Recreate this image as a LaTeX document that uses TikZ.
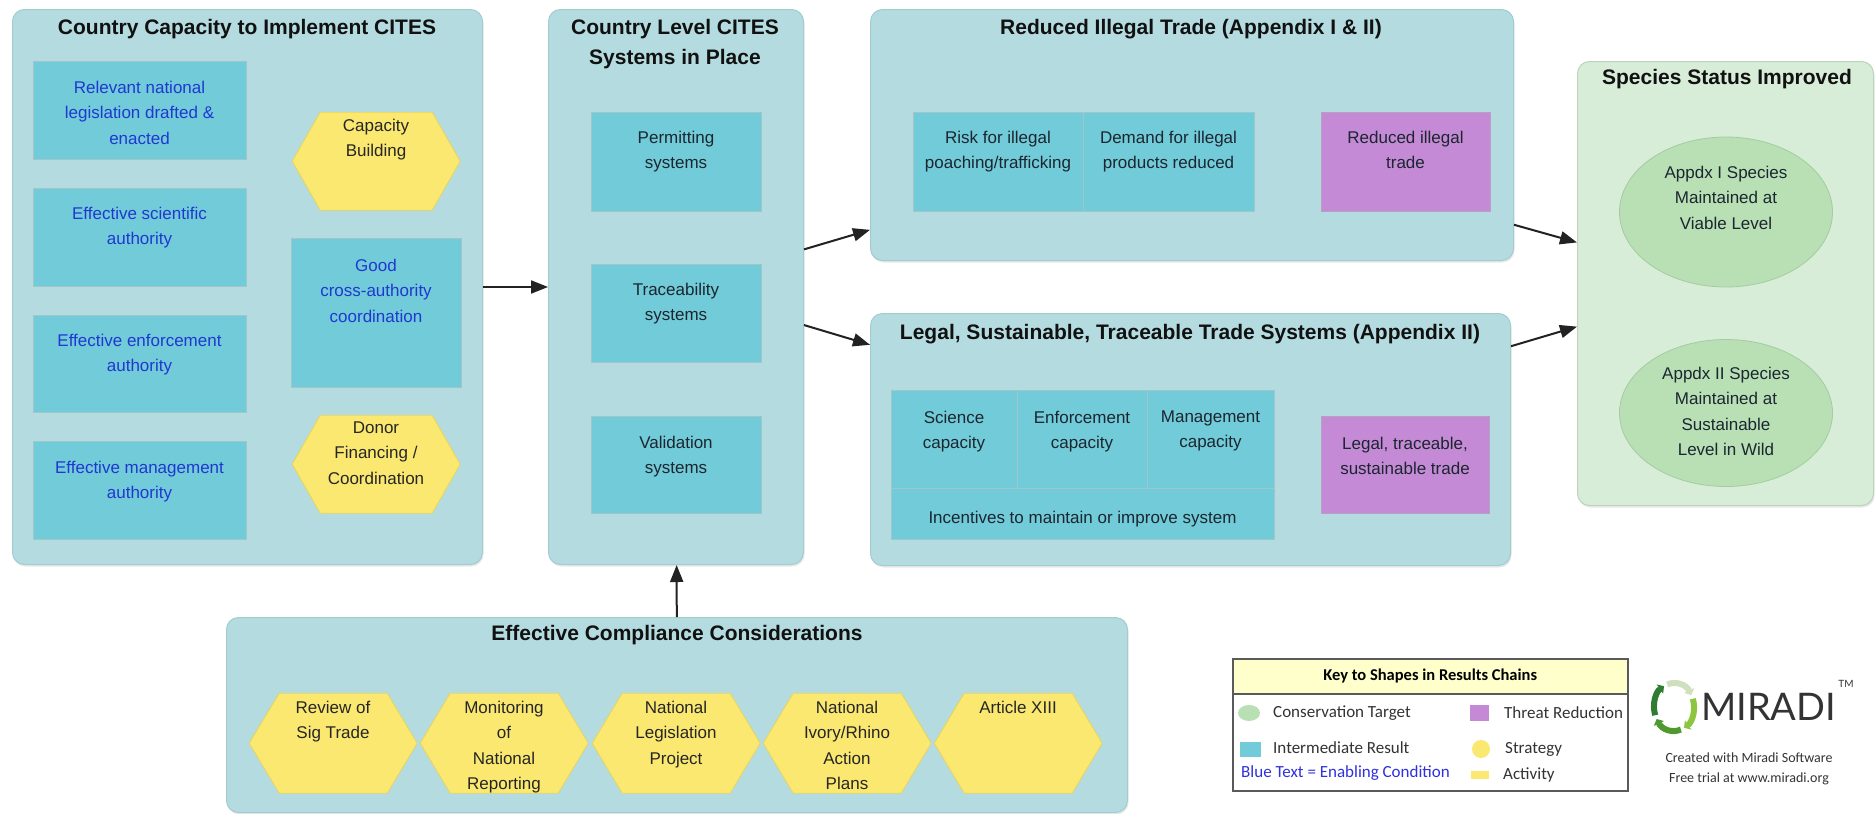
\documentclass[tikz,border=0pt]{standalone}
\usepackage{fontspec}
\setmainfont{Liberation Sans}
\newfontfamily\keyfont{Carlito}
\newfontfamily\logofont{Lato}
\usetikzlibrary{arrows.meta,shapes.geometric,shadows}
\definecolor{panelfill}{HTML}{B4DCE0}
\definecolor{panelline}{HTML}{A3CCD1}
\definecolor{irfill}{HTML}{72CBD8}
\definecolor{irline}{HTML}{9FC6CB}
\definecolor{trfill}{HTML}{C58AD6}
\definecolor{trline}{HTML}{B8A0C0}
\definecolor{hexfill}{HTML}{FBE870}
\definecolor{hexline}{HTML}{E6D45E}
\definecolor{gpanelfill}{HTML}{D8EDD7}
\definecolor{gpanelline}{HTML}{BCD4BB}
\definecolor{ellfill}{HTML}{B9E0B5}
\definecolor{ellline}{HTML}{A3CCA0}
\definecolor{bluet}{HTML}{2038D0}
\definecolor{darkt}{HTML}{1B2630}
\definecolor{titlec}{HTML}{111111}
\definecolor{arrc}{HTML}{222222}
\definecolor{keyhead}{HTML}{FFFFCC}
\definecolor{keyline}{HTML}{5A5A5A}
\definecolor{keytext}{HTML}{333333}
\definecolor{keyblue}{HTML}{3030DD}
\definecolor{lg1}{HTML}{CFE0BE}
\definecolor{lg2}{HTML}{8CC63F}
\definecolor{lg3}{HTML}{4E9A2E}
\definecolor{lg4}{HTML}{2E7D32}
\tikzset{
  panel/.style={draw=panelline, line width=1pt, fill=panelfill, rounded corners=12pt,
    anchor=north west, inner sep=0pt,
    drop shadow={opacity=0.18, shadow xshift=1pt, shadow yshift=-2pt}},
  gpanel/.style={panel, draw=gpanelline, fill=gpanelfill},
  irbox/.style={draw=irline, line width=0.8pt, fill=irfill, anchor=north west, inner sep=0pt},
  trbox/.style={irbox, fill=trfill, draw=trline},
  hexnode/.style={anchor=north west, inner sep=0pt, minimum width=168pt,
    path picture={\fill[hexfill, draw=hexline, line width=0.8pt]
      (path picture bounding box.west)
      -- ([xshift=#1]path picture bounding box.north west)
      -- ([xshift=-#1]path picture bounding box.north east)
      -- (path picture bounding box.east)
      -- ([xshift=-#1]path picture bounding box.south east)
      -- ([xshift=#1]path picture bounding box.south west) -- cycle;}},
  hexnode/.default=28pt,
  ttl/.style={font=\bfseries\fontsize{21}{30}\selectfont, text=titlec, align=center,
    inner sep=0pt, anchor=north},
  txt/.style={font=\fontsize{17}{25.5}\selectfont, text=darkt, align=center,
    inner sep=0pt, anchor=north},
  btxt/.style={txt, text=bluet},
  ctxt/.style={txt, text=black!85},
  arr/.style={draw=arrc, line width=2pt, -{Triangle[length=17pt,width=13pt]}},
  keytxt/.style={font=\keyfont\fontsize{17}{20}\selectfont, text=keytext, anchor=west, inner sep=0pt},
  logoarc/.style={line width=6pt, -{Triangle[length=5pt,width=11pt]}},
}
\begin{document}
\begin{tikzpicture}[x=1pt,y=-1pt]
\useasboundingbox (0,0) rectangle (1875,814);
\fill[white] (0,0) rectangle (1875,814);

% ---------- panels
\node[panel, minimum width=470pt, minimum height=555pt] (p1) at (12,9) {};
\node[panel, minimum width=255pt, minimum height=555pt] (p2) at (548,9) {};
\node[panel, minimum width=643pt, minimum height=251pt] (p3) at (870,9) {};
\node[panel, minimum width=640pt, minimum height=252pt] (p4) at (870,313) {};
\node[panel, minimum width=901pt, minimum height=195pt] (p5) at (226,617) {};
\node[gpanel, minimum width=296pt, minimum height=444pt] (p6) at (1577,61) {};

% ---------- titles
\node[ttl] (t1) at (247,19) {Country Capacity to Implement CITES};
\node[ttl] (t2) at (675,19) {Country Level CITES\\Systems in Place};
\node[ttl] (t3) at (1191,19) {Reduced Illegal Trade (Appendix I \& II)};
\node[ttl] (t4) at (1190,324) {Legal, Sustainable, Traceable Trade Systems (Appendix II)};
\node[ttl] (t5) at (677,625) {Effective Compliance Considerations};
\node[ttl] (t6) at (1727,69) {Species Status Improved};

% ---------- panel 1
\node[irbox, minimum width=213pt, minimum height=98pt] (b1) at (33,61) {};
\node[btxt] (b1t) at (139.5,80.5) {Relevant national\\legislation drafted \&\\enacted};
\node[irbox, minimum width=213pt, minimum height=98pt] (b2) at (33,188) {};
\node[btxt] (b2t) at (139.5,206.5) {Effective scientific\\authority};
\node[irbox, minimum width=213pt, minimum height=97pt] (b3) at (33,315) {};
\node[btxt] (b3t) at (139.5,333.5) {Effective enforcement\\authority};
\node[irbox, minimum width=213pt, minimum height=98pt] (b4) at (33,441) {};
\node[btxt] (b4t) at (139.5,460.5) {Effective management\\authority};

\node[hexnode, minimum height=98pt] (cb) at (292,112) {};
\node[ctxt] (cbt) at (376,118.5) {Capacity\\Building};
\node[irbox, minimum width=170pt, minimum height=149pt] (gc) at (291,238) {};
\node[btxt] (gct) at (376,258.5) {Good\\cross-authority\\coordination};
\node[hexnode, minimum height=98pt] (df) at (292,415) {};
\node[ctxt] (dft) at (376,421.5) {Donor\\Financing /\\Coordination};

% ---------- panel 2
\node[irbox, minimum width=170pt, minimum height=99pt] (perm) at (591,112) {};
\node[txt] (permt) at (676,130.5) {Permitting\\systems};
\node[irbox, minimum width=170pt, minimum height=98pt] (trac) at (591,264) {};
\node[txt] (tract) at (676,282.5) {Traceability\\systems};
\node[irbox, minimum width=170pt, minimum height=97pt] (vali) at (591,416) {};
\node[txt] (valit) at (676,435.5) {Validation\\systems};

% ---------- panel 3
\node[irbox, minimum width=170pt, minimum height=99pt] (risk) at (913,112) {};
\node[txt] (riskt) at (998,130.5) {Risk for illegal\\poaching/trafficking};
\node[irbox, minimum width=171pt, minimum height=99pt] (dem) at (1083,112) {};
\node[txt] (demt) at (1168.5,130.5) {Demand for illegal\\products reduced};
\node[trbox, minimum width=169pt, minimum height=99pt] (red) at (1321,112) {};
\node[txt] (redt) at (1405.5,130.5) {Reduced illegal\\trade};

% ---------- panel 4
\node[irbox, minimum width=126pt, minimum height=98pt] (sci) at (891,390) {};
\node[txt] (scit) at (954,410.5) {Science\\capacity};
\node[irbox, minimum width=130pt, minimum height=98pt] (enf) at (1017,390) {};
\node[txt] (enft) at (1082,410.5) {Enforcement\\capacity};
\node[irbox, minimum width=127pt, minimum height=98pt] (man) at (1147,390) {};
\node[txt] (mant) at (1210.5,410.5) {Management\\capacity};
\node[irbox, minimum width=383pt, minimum height=51pt] (inc) at (891,488) {};
\node[txt] (inct) at (1082.5,511) {Incentives to maintain or improve system};
\node[trbox, minimum width=168pt, minimum height=97pt] (leg) at (1321,416) {};
\node[txt] (legt) at (1405,436.5) {Legal, traceable,\\sustainable trade};

% ---------- panel 5
\node[hexnode=30pt, minimum height=100pt] (h1) at (249,693) {};
\node[ctxt] (h1t) at (333,700.5) {Review of\\Sig Trade};
\node[hexnode=30pt, minimum height=100pt] (h2) at (420,693) {};
\node[ctxt] (h2t) at (504,700.5) {Monitoring\\of\\National\\Reporting};
\node[hexnode=30pt, minimum height=100pt] (h3) at (592,693) {};
\node[ctxt] (h3t) at (676,700.5) {National\\Legislation\\Project};
\node[hexnode=30pt, minimum height=100pt] (h4) at (763,693) {};
\node[ctxt] (h4t) at (847,700.5) {National\\Ivory/Rhino\\Action\\Plans};
\node[hexnode=30pt, minimum height=100pt] (h5) at (934,693) {};
\node[ctxt] (h5t) at (1018,700.5) {Article XIII};

% ---------- panel 6
\node[ellipse, draw=ellline, line width=0.8pt, fill=ellfill, inner sep=0pt,
      minimum width=213pt, minimum height=150pt] (e1) at (1726,212) {};
\node[txt] (e1t) at (1726,165.5) {Appdx I Species\\Maintained at\\Viable Level};
\node[ellipse, draw=ellline, line width=0.8pt, fill=ellfill, inner sep=0pt,
      minimum width=213pt, minimum height=147pt] (e2) at (1726,413) {};
\node[txt] (e2t) at (1726,366.5) {Appdx II Species\\Maintained at\\Sustainable\\Level in Wild};

% ---------- connectors
\draw[arr] (p1) -- (p2);
\draw[arr] (p2) -- (p3);
\draw[arr] (p2) -- (p4);
\draw[arr] (p3) -- (p6);
\draw[arr] (p4) -- (p6);
\draw[arr] (p5) -- (p2);

% ---------- key
\node[draw=keyline, line width=1.5pt, fill=white, anchor=north west, inner sep=0pt,
      minimum width=395pt, minimum height=132pt] (key) at (1232,658) {};
\node[draw=keyline, line width=1.5pt, fill=keyhead, anchor=north west, inner sep=0pt,
      minimum width=395pt, minimum height=35pt] (keyh) at (1232,658) {};
\node[font=\keyfont\bfseries\fontsize{16.5}{18}\selectfont, text=black, inner sep=0pt] (keyt) at (keyh.center) {Key to Shapes in Results Chains};
\node[ellipse, fill=ellfill, inner sep=0pt, minimum width=22pt, minimum height=16pt] (k1) at (1249,713) {};
\node[keytxt] (k1t) at (1273,713) {Conservation Target};
\node[fill=trfill, inner sep=0pt, minimum width=19pt, minimum height=16pt] (k2) at (1479.5,713) {};
\node[keytxt] (k2t) at (1504,713) {Threat Reduction};
\node[fill=irfill, inner sep=0pt, minimum width=21pt, minimum height=15pt] (k3) at (1250.5,749.5) {};
\node[keytxt] (k3t) at (1273,748) {Intermediate Result};
\node[circle, fill=hexfill, inner sep=0pt, minimum size=18pt] (k4) at (1481,749) {};
\node[keytxt] (k4t) at (1505,749) {Strategy};
\node[keytxt, text=keyblue] (k6t) at (1241,773) {Blue Text = Enabling Condition};
\node[fill=hexfill, inner sep=0pt, minimum width=18pt, minimum height=8pt] (k5) at (1480,775) {};
\node[keytxt] (k5t) at (1503,775) {Activity};

% ---------- logo
\coordinate (lc) at (1674,707);
\draw[logoarc, lg1] (lc) ++(-110:20 and 24) arc[start angle=-110, end angle=-30, x radius=20, y radius=24];
\draw[logoarc, lg2] (lc) ++(-20:20 and 24) arc[start angle=-20, end angle=60, x radius=20, y radius=24];
\draw[logoarc, lg3] (lc) ++(70:20 and 24) arc[start angle=70, end angle=150, x radius=20, y radius=24];
\draw[logoarc, lg4] (lc) ++(160:20 and 24) arc[start angle=160, end angle=240, x radius=20, y radius=24];
\node[font=\logofont\fontsize{38}{40}\selectfont, text=keytext, anchor=west, inner sep=0pt] (mir) at (1701,707) {MIRADI};
\node[font=\logofont\fontsize{10}{12}\selectfont, text=keytext, inner sep=0pt] (tm) at (1846,684) {TM};
\node[font=\keyfont\fontsize{14}{16}\selectfont, text=keytext, inner sep=0pt] (cr1) at (1749,758) {Created with Miradi Software};
\node[font=\keyfont\fontsize{14}{16}\selectfont, text=keytext, inner sep=0pt] (cr2) at (1749,779) {Free trial at www.miradi.org};
\end{tikzpicture}
\end{document}
